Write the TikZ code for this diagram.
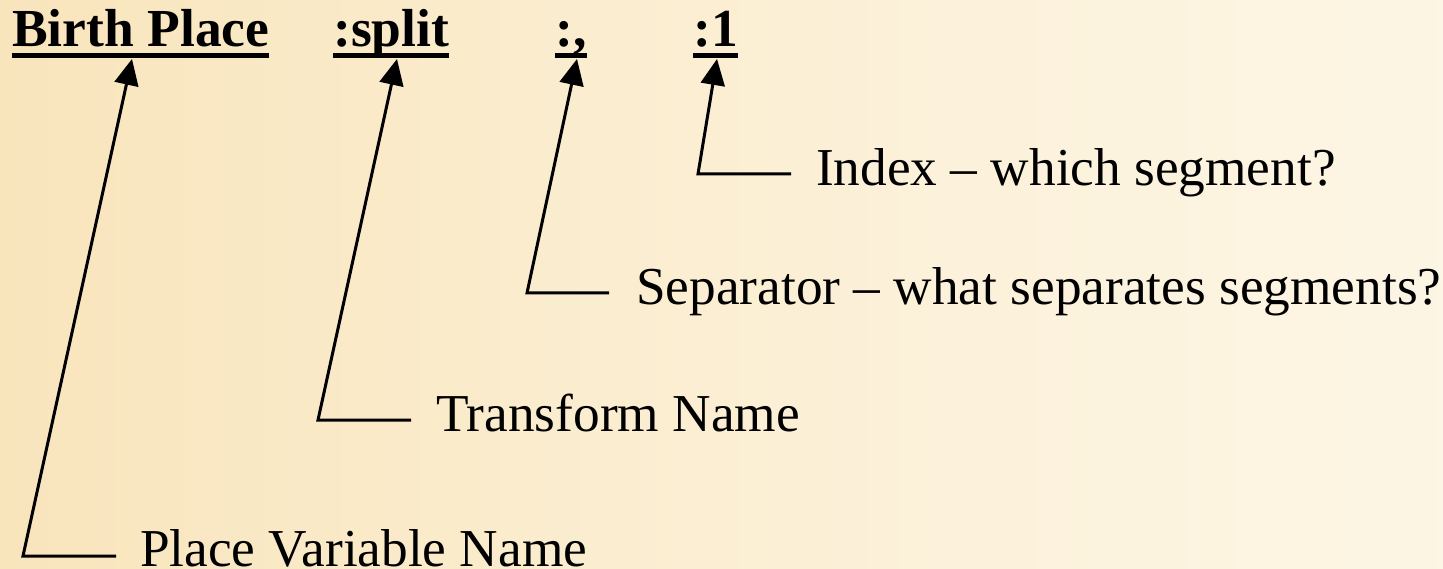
\documentclass[tikz,border=0pt]{standalone}
\usepackage{fontspec}
\setmainfont{Liberation Serif}
\usetikzlibrary{arrows.meta}
\definecolor{bgA}{RGB}{245,217,162}
\definecolor{bgB}{RGB}{249,231,193}
\definecolor{bgC}{RGB}{252,242,220}
\definecolor{bgD}{RGB}{255,251,243}
\pgfdeclarehorizontalshading{bgshade}{100bp}{
  color(0bp)=(bgA); color(30bp)=(bgB); color(60bp)=(bgC); color(100bp)=(bgD)}
\tikzset{
  titletext/.style={anchor=base west, inner sep=0pt, font=\fontsize{53.5}{60}\selectfont\bfseries},
  labeltext/.style={anchor=base west, inner sep=0pt, font=\fontsize{53.3}{60}\selectfont},
  uline/.style={line width=5pt},
  conn/.style={line width=3pt, line join=miter, -{Triangle[length=26pt,width=24pt]}},
}
\begin{document}
\begin{tikzpicture}[x=1pt,y=-1pt]
  \shade[shading=bgshade] (0,0) rectangle (1443,569);
  \useasboundingbox (0,0) rectangle (1443,569);

  % titles
  \node[titletext] (t1) at (12,47) {Birth Place};
  \node[titletext] (t2) at (333,47) {:split};
  \node[titletext] (t3) at (555,47) {:,};
  \node[titletext] (t4) at (693,47) {:1};
  \foreach \t in {t1,t2,t3,t4}{
    \draw[uline] ([yshift=-9pt]\t.base west) -- ([yshift=-9pt]\t.base east);
  }

  % labels
  \node[labeltext] (l4) at (816,186) {Index – which segment?};
  \node[labeltext] (l3) at (636,305) {Separator – what separates segments?};
  \node[labeltext] (l2) at (436,431) {Transform Name};
  \node[labeltext] (l1) at (140,566) {Place Variable Name};

  % corners and tips
  \coordinate (c1) at (23,556);
  \coordinate (c2) at (318,420);
  \coordinate (c3) at (527,293);
  \coordinate (c4) at (698,174);
  \coordinate (p1) at (132,59);
  \coordinate (p2) at (397,59);
  \coordinate (p3) at (577,59);
  \coordinate (p4) at (717,59);

  \draw[conn] ([xshift=-24pt,yshift=10pt]l1.base west) -- (c1) -- (p1);
  \draw[conn] ([xshift=-25pt,yshift=11pt]l2.base west) -- (c2) -- (p2);
  \draw[conn] ([xshift=-27pt,yshift=12pt]l3.base west) -- (c3) -- (p3);
  \draw[conn] ([xshift=-25pt,yshift=12pt]l4.base west) -- (c4) -- (p4);
\end{tikzpicture}
\end{document}
